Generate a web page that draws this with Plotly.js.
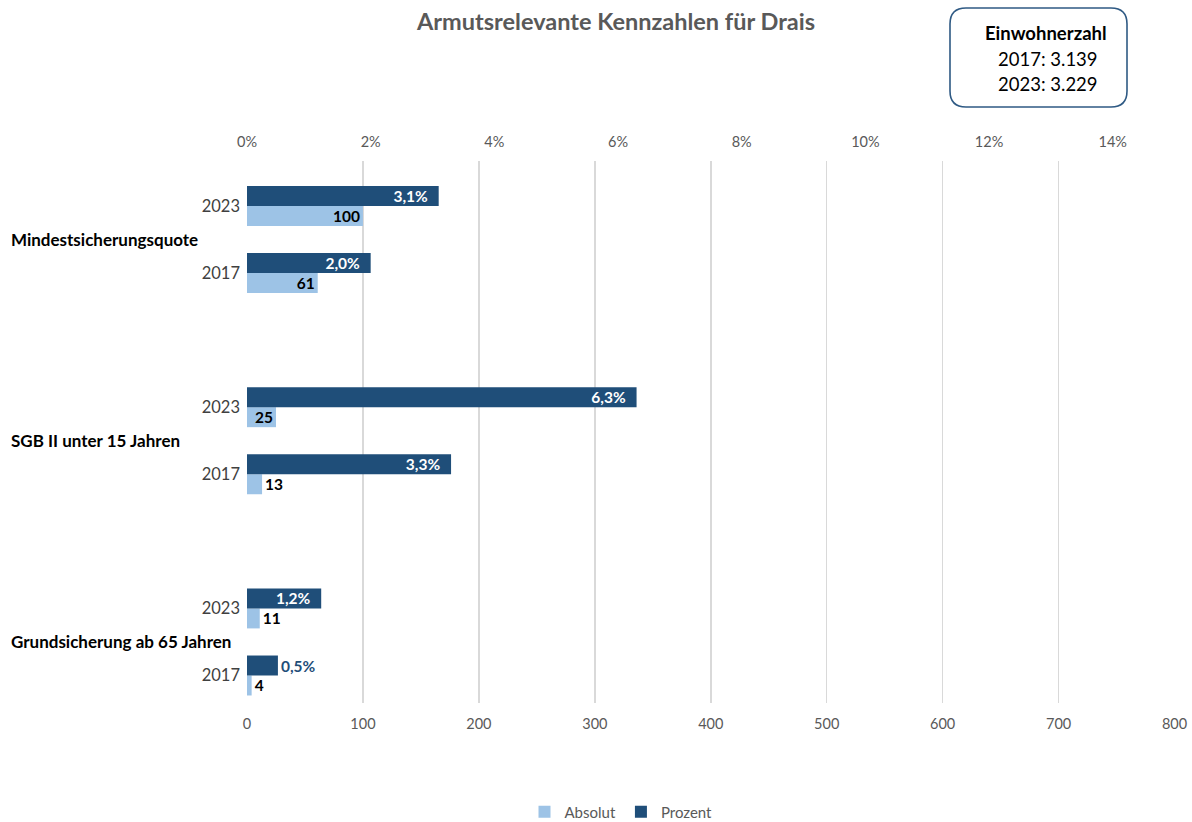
<!DOCTYPE html>
<html><head><meta charset="utf-8">
<script src="https://cdn.plot.ly/plotly-3.0.1.min.js"></script>
<style>html,body{margin:0;padding:0;background:#fff}#chart{width:1192px;height:822px}</style>
</head><body><div id="chart"></div>
<script>
// ---- data ----
const groups = ["Mindestsicherungsquote", "SGB II unter 15 Jahren", "Grundsicherung ab 65 Jahren"];
const years = ["2023", "2017"];
const absolut = [100, 61, 25, 13, 11, 4];
const prozent = [3.1, 2.0, 6.3, 3.3, 1.2, 0.5];
const absTicks = [0, 100, 200, 300, 400, 500, 600, 700, 800];
const pctTicks = [0, 2, 4, 6, 8, 10, 12, 14];
const pctTickLabels = ["0%", "2%", "4%", "6%", "8%", "10%", "12%", "14%"];
const einwohnerJahre = ["2017", "2023"];
const einwohnerZahl = ["3.139", "3.229"];

// ---- layout helpers ----
const W = 1192, H = 822;
const L = 247, R = 1175, T = 161, B = 703;
const X = p => (p - L) / (R - L);
const Y = p => (B - p) / (B - T);
const FONT = "Lato, 'Open Sans', sans-serif";

const cats = [];
const ticktext = [];
groups.forEach(g => years.forEach(y => { cats.push(g + " " + y); ticktext.push(y); }));
const catOrder = [];
groups.forEach((g, gi) => {
  years.forEach(y => catOrder.push(g + " " + y));
  if (gi < groups.length - 1) catOrder.push(" ".repeat(gi + 1));
});

const bw = 0.298;
const nb = "\u00a0\u00a0";

const traceProzent = {
  type: "bar", orientation: "h", name: "Prozent",
  y: cats, x: prozent, xaxis: "x2", yaxis: "y",
  marker: { color: "#1F4E79" },
  width: bw, offset: -bw,
  texttemplate: "<b>%{x:.1f}%</b>" + nb,
  textposition: "auto", insidetextanchor: "end", constraintext: "none", textangle: 0,
  insidetextfont: { family: FONT, size: 15.5, color: "#ffffff" },
  outsidetextfont: { family: FONT, size: 15.5, color: "#1F4E79" },
  hoverinfo: "x+y"
};
const traceAbsolut = {
  type: "bar", orientation: "h", name: "Absolut",
  y: cats, x: absolut, xaxis: "x", yaxis: "y",
  marker: { color: "#9DC3E6" },
  width: bw, offset: 0,
  texttemplate: "<b>%{x}</b>",
  textposition: "auto", insidetextanchor: "end", constraintext: "none", textangle: 0,
  insidetextfont: { family: FONT, size: 15.5, color: "#000000" },
  outsidetextfont: { family: FONT, size: 15.5, color: "#000000" },
  hoverinfo: "x+y"
};

function roundRect(x0, y0, x1, y1, r) {
  const P = (x, y) => X(x).toFixed(5) + "," + Y(y).toFixed(5);
  return "M" + P(x0 + r, y0) + " L" + P(x1 - r, y0) + " Q" + P(x1, y0) + " " + P(x1, y0 + r) +
    " L" + P(x1, y1 - r) + " Q" + P(x1, y1) + " " + P(x1 - r, y1) +
    " L" + P(x0 + r, y1) + " Q" + P(x0, y1) + " " + P(x0, y1 - r) +
    " L" + P(x0, y0 + r) + " Q" + P(x0, y0) + " " + P(x0 + r, y0) + " Z";
}

const annotations = [];
groups.forEach((g, gi) => {
  annotations.push({
    text: "<b>" + g + "</b>", xref: "paper", yref: "y",
    x: X(9), y: gi * (years.length + 1) + 0.5, xanchor: "left", yanchor: "middle",
    showarrow: false, font: { family: FONT, size: 17, color: "#000000" }
  });
});
annotations.push({
  text: "<b>Einwohnerzahl</b>", xref: "paper", yref: "paper", x: X(1046), y: Y(33),
  xanchor: "center", yanchor: "middle", showarrow: false,
  font: { family: FONT, size: 18.5, color: "#000000" }
});
einwohnerJahre.forEach((j, i) => {
  annotations.push({
    text: j + ": " + einwohnerZahl[i], xref: "paper", yref: "paper", x: X(1048), y: Y(59 + i * 25),
    xanchor: "center", yanchor: "middle", showarrow: false,
    font: { family: FONT, size: 18.5, color: "#000000" }
  });
});

const layout = {
  width: W, height: H,
  margin: { l: L, r: W - R, t: T, b: H - B, pad: 0 },
  paper_bgcolor: "#ffffff", plot_bgcolor: "#ffffff",
  font: { family: FONT, color: "#595959" },
  separators: ",.",
  barmode: "overlay",
  showlegend: true,
  title: {
    text: "<b>Armutsrelevante Kennzahlen für Drais</b>",
    x: 616 / W, xref: "container", xanchor: "center",
    y: 1 - 22 / H, yref: "container", yanchor: "middle",
    font: { family: FONT, size: 23.5, color: "#595959" }
  },
  xaxis: {
    range: [0, 800.4], tickmode: "array", tickvals: absTicks,
    showgrid: true, gridcolor: "#d9d9d9", gridwidth: 1.5,
    zeroline: false, showline: false, ticks: "",
    ticklabelstandoff: 10,
    tickfont: { family: FONT, size: 14.5, color: "#595959" },
    fixedrange: true
  },
  xaxis2: {
    overlaying: "x", side: "top", range: [0, 15.0075], tickmode: "array", tickvals: pctTicks,
    ticktext: pctTickLabels, showgrid: false, zeroline: false, showline: false, ticks: "",
    ticklabelstandoff: 10,
    tickfont: { family: FONT, size: 14.5, color: "#595959" },
    fixedrange: true
  },
  yaxis: {
    type: "category", categoryorder: "array", categoryarray: catOrder,
    range: [7.41, -0.67], tickmode: "array", tickvals: cats, ticktext: ticktext,
    showgrid: false, zeroline: false, showline: false, ticks: "",
    ticklabelstandoff: 6,
    tickfont: { family: FONT, size: 16.5, color: "#404040" },
    fixedrange: true
  },
  legend: {
    orientation: "h", traceorder: "reversed",
    x: 621 / W, xref: "container", xanchor: "center",
    y: 1 - 812 / H, yref: "container", yanchor: "middle",
    font: { family: FONT, size: 15, color: "#595959" },
    itemwidth: 30
  },
  shapes: [{
    type: "path", xref: "paper", yref: "paper",
    path: roundRect(950, 8, 1127, 107, 16),
    line: { color: "#2F5A84", width: 1.6 }, fillcolor: "rgba(0,0,0,0)"
  }],
  annotations: annotations
};

Plotly.newPlot("chart", [traceProzent, traceAbsolut], layout, { displayModeBar: false, staticPlot: true });
</script>
</body></html>
